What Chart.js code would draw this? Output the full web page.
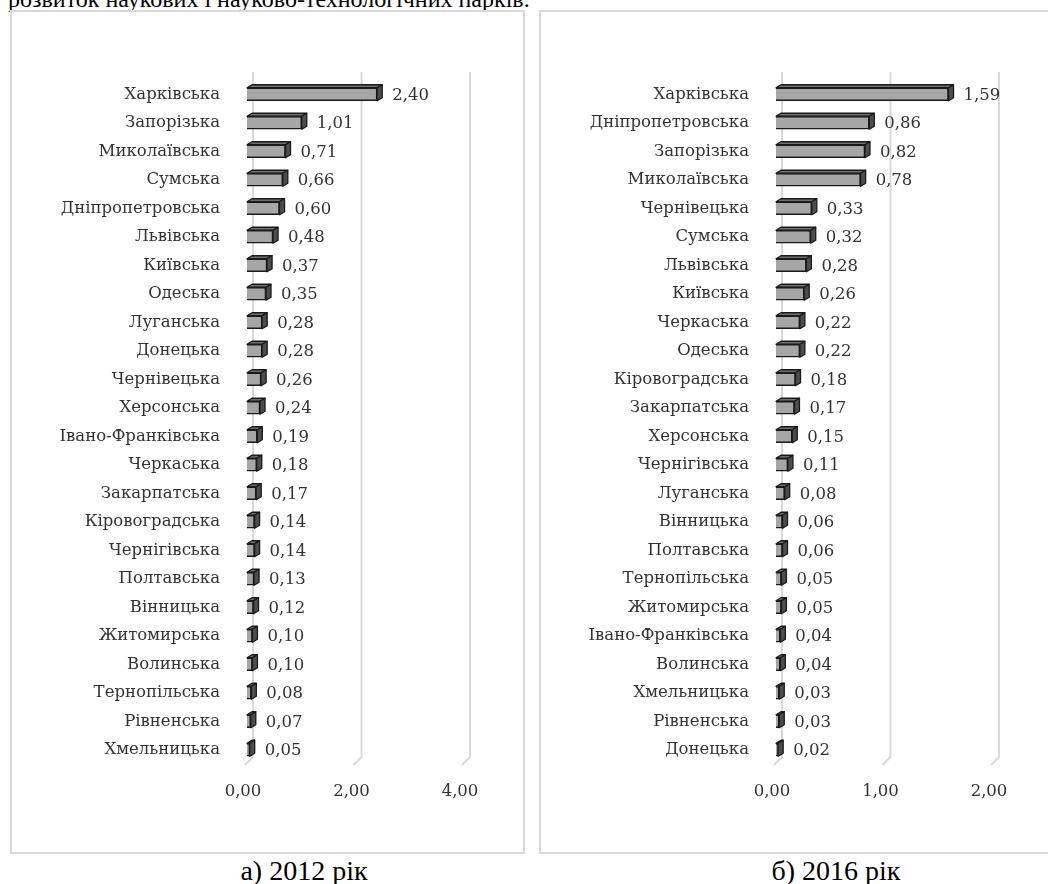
<!DOCTYPE html>
<html lang="uk">
<head>
<meta charset="utf-8">
<title>Регіони</title>
<script src="https://cdn.jsdelivr.net/npm/chart.js@4.4.1/dist/chart.umd.min.js"></script>
<style>
    html, body {
        margin: 0;
        padding: 0;
        width: 1048px;
        height: 884px;
        overflow: hidden;
        background: #fff;
        position: relative;
        font-family: "Liberation Serif", "Times New Roman", serif;
    }
    .intro {
        position: absolute;
        left: 8px;
        top: -13px;
        font-size: 24px;
        line-height: 24px;
        white-space: nowrap;
        color: #000;
    }
    .box {
        position: absolute;
        top: 10px;
        height: 840px;
        border: 2px solid #d9d9d9;
        background: #fff;
    }
    #boxA { left: 10px; width: 511px; }
    #boxB { left: 539px; width: 520px; }
    .box canvas { position: absolute; left: 0; top: 0; }
    .caption {
        position: absolute;
        top: 857px;
        font-size: 28px;
        line-height: 28px;
        white-space: nowrap;
        color: #000;
        transform: translateX(-50%);
    }
</style>
</head>
<body>
<div class="intro">розвиток наукових і науково-технологічних парків.</div>

<div class="box" id="boxA"><canvas id="chart2012" width="511" height="840"></canvas></div>
<div class="box" id="boxB"><canvas id="chart2016" width="507" height="840"></canvas></div>

<div class="caption" style="left:304px">а) 2012 рік</div>
<div class="caption" style="left:836px">б) 2016 рік</div>

<script>
// Дані 2012
const regions2012 = ['Харківська', 'Запорізька', 'Миколаївська', 'Сумська', 'Дніпропетровська',
    'Львівська', 'Київська', 'Одеська', 'Луганська', 'Донецька', 'Чернівецька', 'Херсонська',
    'Івано-Франківська', 'Черкаська', 'Закарпатська', 'Кіровоградська', 'Чернігівська',
    'Полтавська', 'Вінницька', 'Житомирська', 'Волинська', 'Тернопільська', 'Рівненська',
    'Хмельницька'];
const values2012 = [2.40, 1.01, 0.71, 0.66, 0.60, 0.48, 0.37, 0.35, 0.28, 0.28, 0.26, 0.24,
    0.19, 0.18, 0.17, 0.14, 0.14, 0.13, 0.12, 0.10, 0.10, 0.08, 0.07, 0.05];
const ticks2012 = ['0,00', '2,00', '4,00'];

// Дані 2016
const regions2016 = ['Харківська', 'Дніпропетровська', 'Запорізька', 'Миколаївська', 'Чернівецька',
    'Сумська', 'Львівська', 'Київська', 'Черкаська', 'Одеська', 'Кіровоградська', 'Закарпатська',
    'Херсонська', 'Чернігівська', 'Луганська', 'Вінницька', 'Полтавська', 'Тернопільська',
    'Житомирська', 'Івано-Франківська', 'Волинська', 'Хмельницька', 'Рівненська', 'Донецька'];
const values2016 = [1.59, 0.86, 0.82, 0.78, 0.33, 0.32, 0.28, 0.26, 0.22, 0.22, 0.18, 0.17,
    0.15, 0.11, 0.08, 0.06, 0.06, 0.05, 0.05, 0.04, 0.04, 0.03, 0.03, 0.02];
const ticks2016 = ['0,00', '1,00', '2,00'];

const textFont = { family: 'DejaVu Serif', size: 16.5 };
const textColor = '#333333';

// число з комою
function fmt(v) {
    return v.toFixed(2).replace('.', ',');
}

// задня стінка з лініями сітки (імітація 3D)
const wallPlugin = {
    id: 'wall',
    beforeDatasetsDraw(chart) {
        const { ctx, chartArea, scales } = chart;
        const xs = scales.x;
        ctx.save();
        ctx.strokeStyle = '#d9d9d9';
        ctx.lineWidth = 2;
        xs.ticks.forEach(t => {
            const px = xs.getPixelForValue(t.value);
            ctx.beginPath();
            ctx.moveTo(px + 6, chartArea.top - 8);
            ctx.lineTo(px + 6, chartArea.bottom - 7);
            ctx.lineTo(px - 2, chartArea.bottom + 1);
            ctx.stroke();
        });
        ctx.restore();
    }
};

// бокові грані стовпців і підписи значень
const boxPlugin = {
    id: 'box3d',
    afterDatasetsDraw(chart) {
        const { ctx } = chart;
        const meta = chart.getDatasetMeta(0);
        const data = chart.data.datasets[0].data;
        const dx = 5, dy = 3;
        ctx.save();
        ctx.lineWidth = 1.3;
        ctx.strokeStyle = '#1a1a1a';
        ctx.lineJoin = 'round';
        meta.data.forEach((bar, i) => {
            const top = bar.y - bar.height / 2;
            const bottom = bar.y + bar.height / 2;

            // верхня грань
            ctx.beginPath();
            ctx.moveTo(bar.base, top);
            ctx.lineTo(bar.x, top);
            ctx.lineTo(bar.x + dx, top - dy);
            ctx.lineTo(bar.base + dx, top - dy);
            ctx.closePath();
            ctx.fillStyle = '#6f6f6f';
            ctx.fill();
            ctx.stroke();

            // права грань
            ctx.beginPath();
            ctx.moveTo(bar.x, top);
            ctx.lineTo(bar.x + dx, top - dy);
            ctx.lineTo(bar.x + dx, bottom - dy);
            ctx.lineTo(bar.x, bottom);
            ctx.closePath();
            ctx.fillStyle = '#4d4d4d';
            ctx.fill();
            ctx.stroke();

            // підпис
            ctx.fillStyle = textColor;
            ctx.font = textFont.size + 'px "' + textFont.family + '"';
            ctx.textAlign = 'left';
            ctx.textBaseline = 'middle';
            ctx.fillText(fmt(data[i]), bar.x + 15, bar.y + 1);
        });
        ctx.restore();
    }
};

// побудова одного графіка
function renderChart(canvasId, labels, values, maxX, tickLabels, padRight) {
    const el = document.getElementById(canvasId);
    return new Chart(el, {
        type: 'bar',
        data: {
            labels: labels,
            datasets: [{
                data: values,
                backgroundColor: '#a6a6a6',
                borderColor: '#1a1a1a',
                borderWidth: 1.6,
                barThickness: 13
            }]
        },
        options: {
            indexAxis: 'y',
            responsive: false,
            animation: false,
            layout: { padding: { top: 68, right: padRight, bottom: 0, left: 0 } },
            plugins: {
                legend: { display: false },
                tooltip: { enabled: false }
            },
            scales: {
                x: {
                    min: 0,
                    max: maxX,
                    ticks: {
                        stepSize: maxX / 2,
                        padding: 10,
                        labelOffset: -4,
                        color: textColor,
                        font: textFont,
                        callback: (v, i) => tickLabels[i]
                    },
                    grid: { display: false },
                    border: { display: false },
                    afterFit: s => { s.height = 88; }
                },
                y: {
                    ticks: {
                        padding: 19,
                        autoSkip: false,
                        color: textColor,
                        font: textFont
                    },
                    grid: { display: false },
                    border: { display: false },
                    afterFit: s => { s.width = 235; }
                }
            }
        },
        plugins: [wallPlugin, boxPlugin]
    });
}

renderChart('chart2012', regions2012, values2012, 4, ticks2012, 59);
renderChart('chart2016', regions2016, values2016, 2, ticks2016, 55);
</script>
</body>
</html>
